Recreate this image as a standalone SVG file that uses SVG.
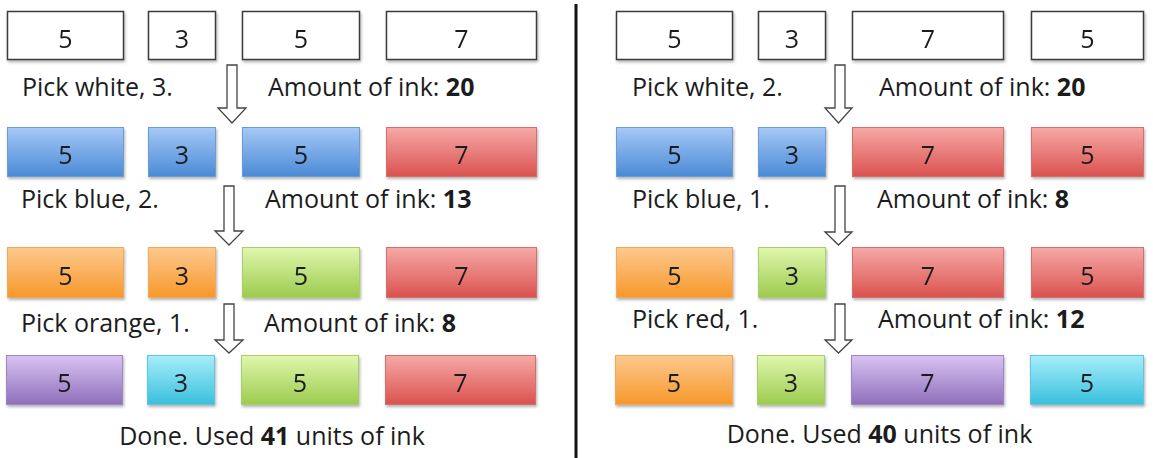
<svg xmlns="http://www.w3.org/2000/svg" width="1153" height="458" viewBox="0 0 1153 458">
<defs>
<style>
text{font-family:"Open Sans","Liberation Sans",sans-serif;font-size:25px;fill:#1c1c1c}
.num{text-anchor:middle}
.b{font-weight:bold}
.w{fill:#fff;stroke:#3a3a3a;stroke-width:1.5}
.blue{fill:url(#gBlue);stroke:#6d9bd6;stroke-width:1}
.red{fill:url(#gRed);stroke:#d66e6c;stroke-width:1}
.orange{fill:url(#gOrange);stroke:#f3a85a;stroke-width:1}
.green{fill:url(#gGreen);stroke:#a8cf6a;stroke-width:1}
.purple{fill:url(#gPurple);stroke:#9f84c6;stroke-width:1}
.cyan{fill:url(#gCyan);stroke:#5fc6de;stroke-width:1}
.arrow{fill:#fff;stroke:#444;stroke-width:1.3;stroke-linejoin:miter}
.box{filter:url(#sh)}
</style>
<filter id="sh" x="-10%" y="-20%" width="125%" height="150%">
<feGaussianBlur in="SourceAlpha" stdDeviation="1.5"/>
<feOffset dx="1" dy="2" result="o"/>
<feComponentTransfer><feFuncA type="linear" slope="0.3"/></feComponentTransfer>
<feMerge><feMergeNode/><feMergeNode in="SourceGraphic"/></feMerge>
</filter>
<linearGradient id="gBlue" x1="0" y1="0" x2="0" y2="1"><stop offset="0" stop-color="#a6c8f6"/><stop offset="1" stop-color="#4a8ad6"/></linearGradient>
<linearGradient id="gRed" x1="0" y1="0" x2="0" y2="1"><stop offset="0" stop-color="#f6a9a7"/><stop offset="1" stop-color="#da524f"/></linearGradient>
<linearGradient id="gOrange" x1="0" y1="0" x2="0" y2="1"><stop offset="0" stop-color="#fcc98e"/><stop offset="1" stop-color="#f7982b"/></linearGradient>
<linearGradient id="gGreen" x1="0" y1="0" x2="0" y2="1"><stop offset="0" stop-color="#e0f7ae"/><stop offset="1" stop-color="#9ccb4e"/></linearGradient>
<linearGradient id="gPurple" x1="0" y1="0" x2="0" y2="1"><stop offset="0" stop-color="#d8c3f2"/><stop offset="1" stop-color="#8f6fbb"/></linearGradient>
<linearGradient id="gCyan" x1="0" y1="0" x2="0" y2="1"><stop offset="0" stop-color="#a6eefa"/><stop offset="1" stop-color="#3ac0dd"/></linearGradient>
</defs>
<rect width="1153" height="458" fill="#fff"/>

<!-- Divider -->
<line x1="576" y1="4" x2="576" y2="458" stroke="#111" stroke-width="3"/>

<!-- LEFT PANEL -->
<g id="L1a" class="box"><rect class="w" x="7.5" y="11.5" width="116" height="48"/><text class="num" x="65.5" y="48">5</text></g>
<g id="L1b" class="box"><rect class="w" x="148.5" y="11.5" width="67" height="48"/><text class="num" x="182" y="48">3</text></g>
<g id="L1c" class="box"><rect class="w" x="242.5" y="11.5" width="117" height="48"/><text class="num" x="301" y="48">5</text></g>
<g id="L1d" class="box"><rect class="w" x="386.5" y="11.5" width="150" height="48"/><text class="num" x="461.5" y="48">7</text></g>

<g id="L2a" class="box"><rect class="blue" x="7.5" y="127.5" width="116" height="49"/><text class="num" x="65.5" y="164">5</text></g>
<g id="L2b" class="box"><rect class="blue" x="148.5" y="127.5" width="67" height="49"/><text class="num" x="182" y="164">3</text></g>
<g id="L2c" class="box"><rect class="blue" x="242.5" y="127.5" width="117" height="49"/><text class="num" x="301" y="164">5</text></g>
<g id="L2d" class="box"><rect class="red" x="386.5" y="127.5" width="150" height="49"/><text class="num" x="461.5" y="164">7</text></g>

<g id="L3a" class="box"><rect class="orange" x="7.5" y="247.5" width="116" height="50"/><text class="num" x="65.5" y="285">5</text></g>
<g id="L3b" class="box"><rect class="orange" x="148.5" y="247.5" width="67" height="50"/><text class="num" x="182" y="285">3</text></g>
<g id="L3c" class="box"><rect class="green" x="242.5" y="247.5" width="117" height="50"/><text class="num" x="301" y="285">5</text></g>
<g id="L3d" class="box"><rect class="red" x="386.5" y="247.5" width="150" height="50"/><text class="num" x="461.5" y="285">7</text></g>

<g id="L4a" class="box"><rect class="purple" x="6.5" y="355.5" width="116" height="49"/><text class="num" x="64.5" y="392">5</text></g>
<g id="L4b" class="box"><rect class="cyan" x="147.5" y="355.5" width="67" height="49"/><text class="num" x="181" y="392">3</text></g>
<g id="L4c" class="box"><rect class="green" x="241.5" y="355.5" width="117" height="49"/><text class="num" x="300" y="392">5</text></g>
<g id="L4d" class="box"><rect class="red" x="385.5" y="355.5" width="150" height="49"/><text class="num" x="460.5" y="392">7</text></g>

<g id="L-labels">
<text x="22" y="96">Pick white, 3.</text>
<text x="268" y="96">Amount of ink: <tspan class="b">20</tspan></text>
<text x="21" y="208">Pick blue, 2.</text>
<text x="265" y="208">Amount of ink: <tspan class="b">13</tspan></text>
<text x="21" y="332">Pick orange, 1.</text>
<text x="264" y="332">Amount of ink: <tspan class="b">8</tspan></text>
<text x="272" y="445" text-anchor="middle">Done. Used <tspan class="b">41</tspan> units of ink</text>
</g>

<!-- RIGHT PANEL -->
<g id="R1a" class="box"><rect class="w" x="616.5" y="11.5" width="116" height="48"/><text class="num" x="674.5" y="48">5</text></g>
<g id="R1b" class="box"><rect class="w" x="758.5" y="11.5" width="67" height="48"/><text class="num" x="792" y="48">3</text></g>
<g id="R1c" class="box"><rect class="w" x="852.5" y="11.5" width="151" height="48"/><text class="num" x="928" y="48">7</text></g>
<g id="R1d" class="box"><rect class="w" x="1031.5" y="11.5" width="112" height="48"/><text class="num" x="1087.5" y="48">5</text></g>

<g id="R2a" class="box"><rect class="blue" x="616.5" y="127.5" width="116" height="49"/><text class="num" x="674.5" y="164">5</text></g>
<g id="R2b" class="box"><rect class="blue" x="758.5" y="127.5" width="67" height="49"/><text class="num" x="792" y="164">3</text></g>
<g id="R2c" class="box"><rect class="red" x="852.5" y="127.5" width="151" height="49"/><text class="num" x="928" y="164">7</text></g>
<g id="R2d" class="box"><rect class="red" x="1031.5" y="127.5" width="112" height="49"/><text class="num" x="1087.5" y="164">5</text></g>

<g id="R3a" class="box"><rect class="orange" x="616.5" y="247.5" width="116" height="50"/><text class="num" x="674.5" y="285">5</text></g>
<g id="R3b" class="box"><rect class="green" x="758.5" y="247.5" width="67" height="50"/><text class="num" x="792" y="285">3</text></g>
<g id="R3c" class="box"><rect class="red" x="852.5" y="247.5" width="151" height="50"/><text class="num" x="928" y="285">7</text></g>
<g id="R3d" class="box"><rect class="red" x="1031.5" y="247.5" width="112" height="50"/><text class="num" x="1087.5" y="285">5</text></g>

<g id="R4a" class="box"><rect class="orange" x="615.5" y="355.5" width="117" height="49"/><text class="num" x="674" y="392">5</text></g>
<g id="R4b" class="box"><rect class="green" x="757.5" y="355.5" width="67" height="49"/><text class="num" x="791" y="392">3</text></g>
<g id="R4c" class="box"><rect class="purple" x="851.5" y="355.5" width="152" height="49"/><text class="num" x="927.5" y="392">7</text></g>
<g id="R4d" class="box"><rect class="cyan" x="1030.5" y="355.5" width="113" height="49"/><text class="num" x="1087" y="392">5</text></g>

<g id="R-labels">
<text x="632" y="96">Pick white, 2.</text>
<text x="879" y="96">Amount of ink: <tspan class="b">20</tspan></text>
<text x="632" y="208">Pick blue, 1.</text>
<text x="877" y="208">Amount of ink: <tspan class="b">8</tspan></text>
<text x="632" y="328">Pick red, 1.</text>
<text x="878" y="328">Amount of ink: <tspan class="b">12</tspan></text>
<text x="879.5" y="443" text-anchor="middle">Done. Used <tspan class="b">40</tspan> units of ink</text>
</g>

<!-- CONNECTORS (block arrows) -->
<g id="connectors">
<path class="arrow" d="M227,65 H237 V108 H246 L232,123 L218,108 H227 Z"/>
<path class="arrow" d="M224,186 H234 V231 H243 L229,245 L215,231 H224 Z"/>
<path class="arrow" d="M224,304 H234 V340 H243 L229,353 L215,340 H224 Z"/>
<path class="arrow" d="M835,65 H845 V108 H852 L838.5,123 L825,108 H835 Z"/>
<path class="arrow" d="M835,186 H845 V232 H852 L838.5,245 L825,232 H835 Z"/>
<path class="arrow" d="M835,304 H845 V340 H852 L838.5,353 L825,340 H835 Z"/>
</g>
</svg>
